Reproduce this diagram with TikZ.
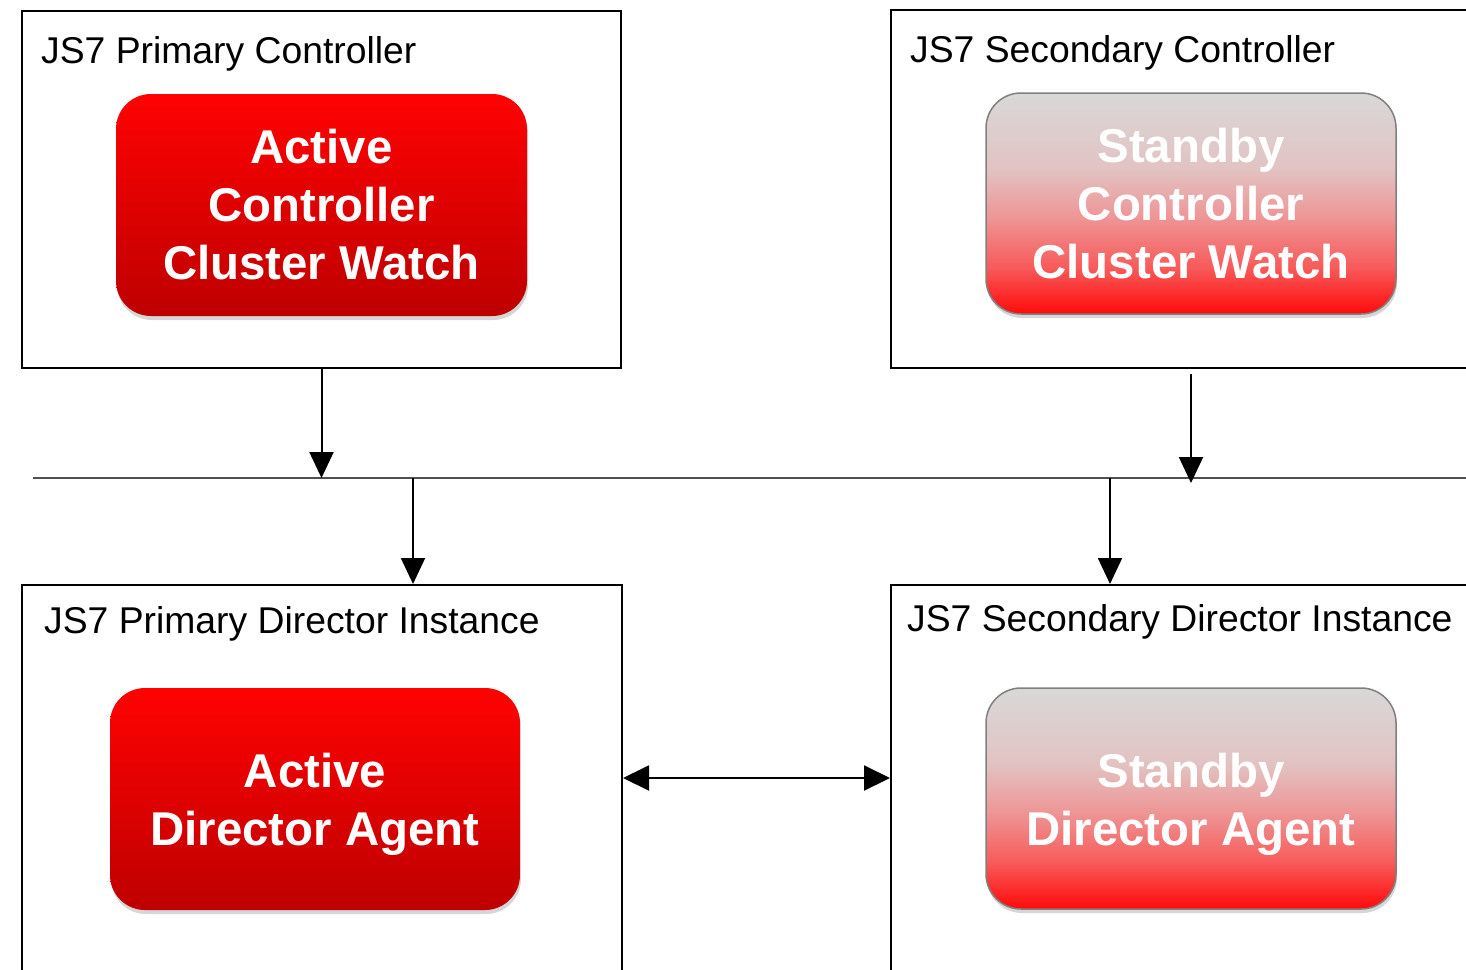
\documentclass[tikz,border=0pt]{standalone}
\usepackage{fontspec}
\setmainfont{Liberation Sans}
\usetikzlibrary{arrows.meta,shadows,calc}
\definecolor{acTop}{RGB}{255,2,2}
\definecolor{acBot}{RGB}{190,0,0}
\definecolor{sbTop}{RGB}{217,216,216}
\definecolor{sbA}{RGB}{226,195,195}
\definecolor{sbB}{RGB}{238,150,150}
\definecolor{sbC}{RGB}{248,90,90}
\definecolor{sbBot}{RGB}{255,10,10}
\definecolor{sbLine}{RGB}{128,128,128}
\definecolor{busGray}{RGB}{80,80,80}
\pgfdeclareverticalshading{activeshade}{100bp}{color(0bp)=(acBot); color(25bp)=(acBot); color(75bp)=(acTop); color(100bp)=(acTop)}
\pgfdeclareverticalshading{standbyshade}{100bp}{color(0bp)=(sbBot); color(25bp)=(sbBot); color(35.5bp)=(sbC); color(47bp)=(sbB); color(58bp)=(sbA); color(75bp)=(sbTop); color(100bp)=(sbTop)}
\begin{document}
\begin{tikzpicture}[x=1pt,y=-1pt,
  frame/.style={draw=black, line width=2pt, rectangle, inner sep=0pt},
  title/.style={anchor=base west, inner sep=0pt, font=\fontsize{37.3}{44}\selectfont},
  agentbox/.style={rectangle, rounded corners=35pt, inner sep=0pt, text=white,
    font=\bfseries\fontsize{47.4}{58}\selectfont, align=center,
    drop shadow={shadow xshift=1pt, shadow yshift=-4pt, fill=black, opacity=0.16}},
  active/.style={agentbox, shading=activeshade, draw=none},
  standby/.style={agentbox, shading=standbyshade, draw=sbLine, line width=1.5pt},
  arr/.style={line width=2pt, -{Triangle[length=26pt,width=24pt]}},
  darr/.style={line width=2pt, {Triangle[length=26pt,width=25pt]}-{Triangle[length=26pt,width=25pt]}}
]
\useasboundingbox (0,0) rectangle (1466,969);
\clip (0,0) rectangle (1466,969);
\fill[white] (0,0) rectangle (1466,969);

% frames
\node[frame, minimum width=599pt, minimum height=357pt] (pc) at (321.5,189.5) {};
\node[frame, minimum width=609pt, minimum height=358pt] (sc) at (1195.5,189) {};
\node[frame, minimum width=600pt, minimum height=425pt] (pd) at (322,797.5) {};
\node[frame, minimum width=609pt, minimum height=425pt] (sd) at (1195.5,797.5) {};

% titles
\node[title] (t1) at (41,63) {JS7 Primary Controller};
\node[title] (t2) at (910,62) {JS7 Secondary Controller};
\node[title] (t3) at (44,633) {JS7 Primary Director Instance};
\node[title] (t4) at (907,631) {JS7 Secondary Director Instance};

% agent boxes
\node[active, minimum width=411pt, minimum height=222pt] (ac) at (321.5,205) {Active\\Controller\\Cluster Watch};
\node[standby, minimum width=410pt, minimum height=221pt] (scw) at (1191,203.5) {Standby\\Controller\\Cluster Watch};
\node[active, minimum width=410pt, minimum height=222pt] (ad) at (315,799) {\rule{0pt}{46pt}Active\\Director Agent};
\node[standby, minimum width=410pt, minimum height=221pt] (sda) at (1191,798.5) {\rule{0pt}{46pt}Standby\\Director Agent};

% bus
\coordinate (busL) at (33,478);
\coordinate (busR) at (1466,478);
\draw[busGray, line width=1.6pt] (busL) -- (busR);

\coordinate (j1) at (321.5,478);
\coordinate (j2) at (1191,483);
\coordinate (j3) at (413,478);
\coordinate (j4) at (1110,478);
\coordinate (m) at (0,778);

\draw[arr] (pc.south) -- (j1);
\draw[arr] ($(sc.south -| j2)+(0,5)$) -- (j2);
\draw[arr] (j3) -- (j3 |- pd.north);
\draw[arr] (j4) -- (j4 |- sd.north);
\draw[darr] (pd.east |- m) -- (sd.west |- m);
\end{tikzpicture}
\end{document}
